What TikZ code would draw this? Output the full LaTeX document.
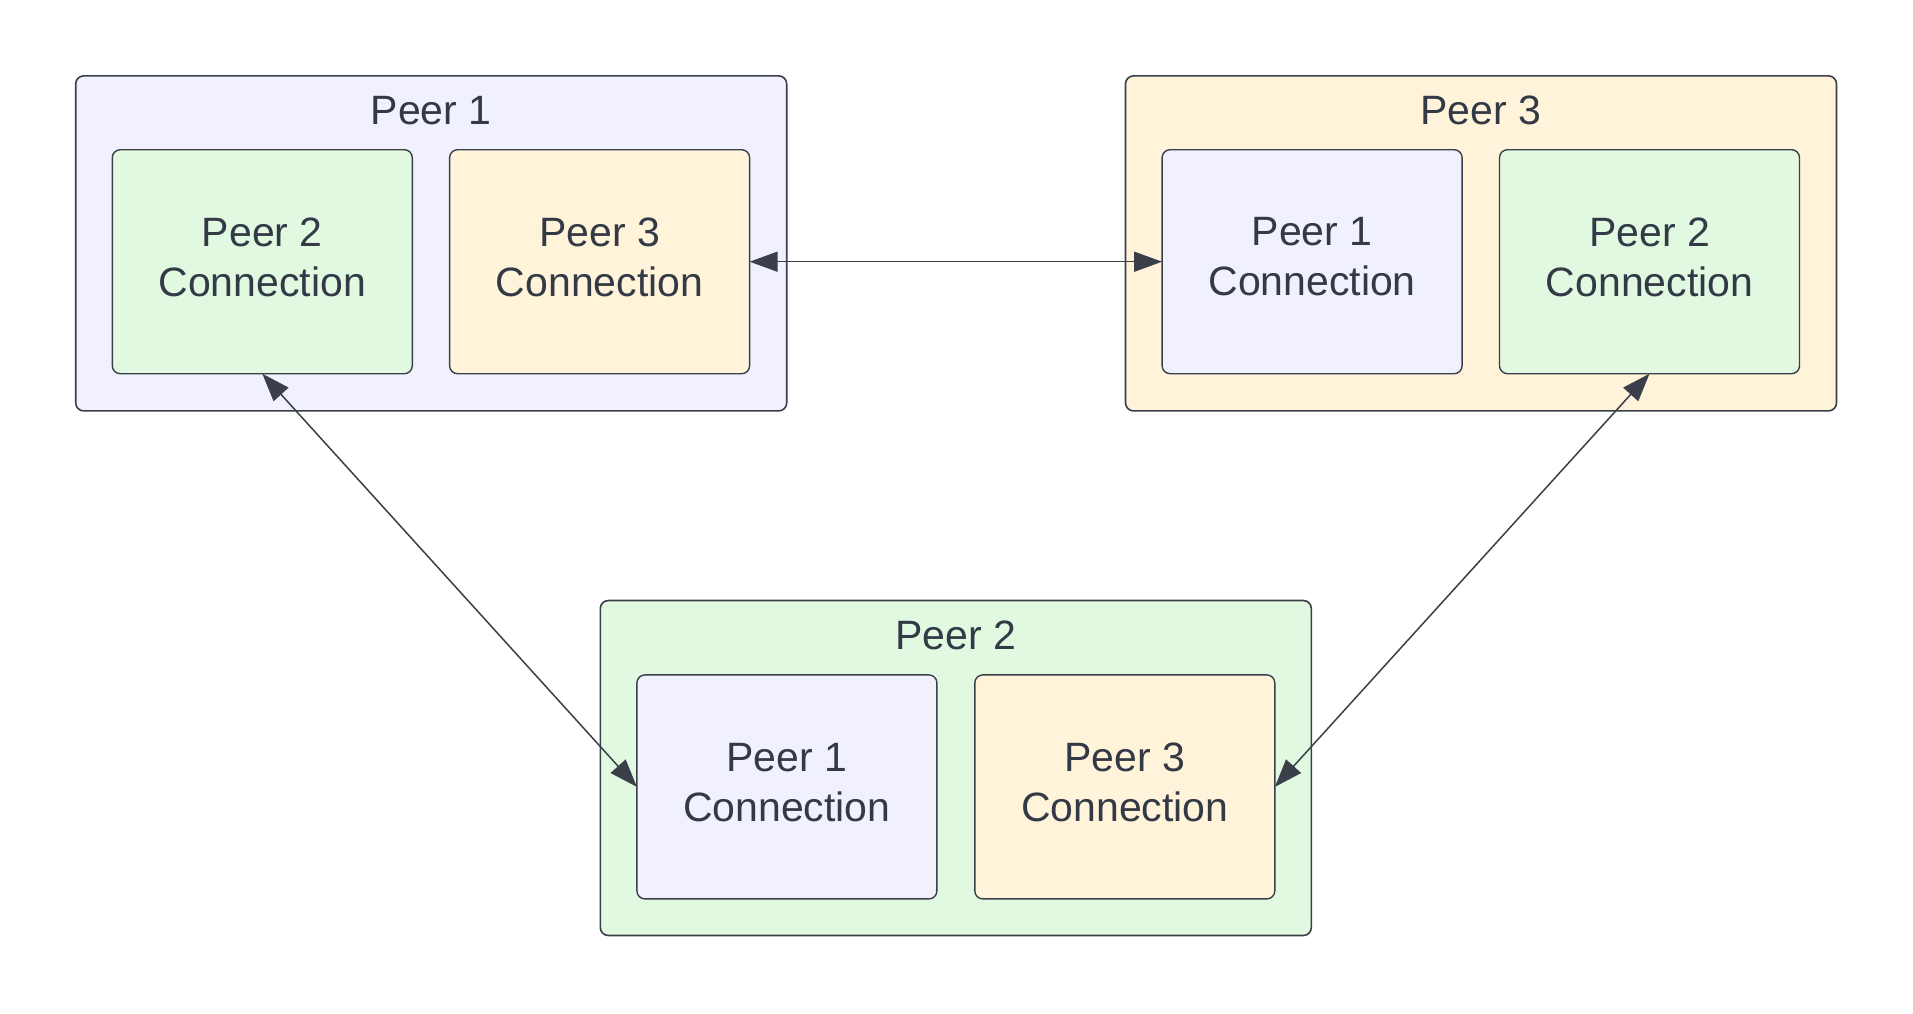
\documentclass[tikz,border=0pt]{standalone}
\usepackage{fontspec}
\setmainfont{Liberation Sans}
\usetikzlibrary{arrows.meta}
\definecolor{lav}{HTML}{F1F1FE}
\definecolor{grn}{HTML}{E1F9E1}
\definecolor{crm}{HTML}{FFF3D9}
\definecolor{ink}{HTML}{333A46}
\definecolor{edgec}{HTML}{3A3F4A}
\begin{document}
\begin{tikzpicture}[x=1pt,y=-1pt,
  outerbox/.style={draw=edgec, line width=1.6pt, rounded corners=8pt, minimum width=711pt, minimum height=335pt, inner sep=0pt, outer sep=0pt},
  innerbox/.style={draw=edgec, line width=1.4pt, rounded corners=8pt, minimum width=300pt, minimum height=224pt, inner sep=0pt, outer sep=0pt, text=ink, font=\fontsize{41}{50}\selectfont, align=center, text depth=10pt},
  titletext/.style={text=ink, font=\fontsize{41}{50}\selectfont, inner sep=0pt, anchor=base},
  link/.style={draw=edgec, line width=1.5pt, {Triangle[length=28pt,width=20pt]}-{Triangle[length=28pt,width=20pt]}}]
\useasboundingbox[fill=white] (0,0) rectangle (1913,1013);
% outer peers
\node[outerbox, fill=lav] (p1) at (431.2,243.4) {};
\node[outerbox, fill=crm] (p3) at (1481,243.4) {};
\node[outerbox, fill=grn] (p2) at (955.8,768) {};
\node[titletext] (p1t) at (431.2,124.5) {Peer 1};
\node[titletext] (p3t) at (1481,124.5) {Peer 3};
\node[titletext] (p2t) at (955.8,649) {Peer 2};
% inner connections
\node[innerbox, fill=grn] (a) at (262.3,261.7) {Peer 2\\Connection};
\node[innerbox, fill=crm] (b) at (599.6,261.7) {Peer 3\\Connection};
\node[innerbox, fill=lav] (c) at (1312.1,261.7) {Peer 1\\Connection};
\node[innerbox, fill=grn] (d) at (1649.5,261.7) {Peer 2\\Connection};
\node[innerbox, fill=lav] (e) at (786.9,786.9) {Peer 1\\Connection};
\node[innerbox, fill=crm] (f) at (1124.8,786.9) {Peer 3\\Connection};
% links
\draw[link] (b.east) -- (c.west);
\draw[link] (a.south) -- (e.west);
\draw[link] (d.south) -- (f.east);
\end{tikzpicture}
\end{document}
